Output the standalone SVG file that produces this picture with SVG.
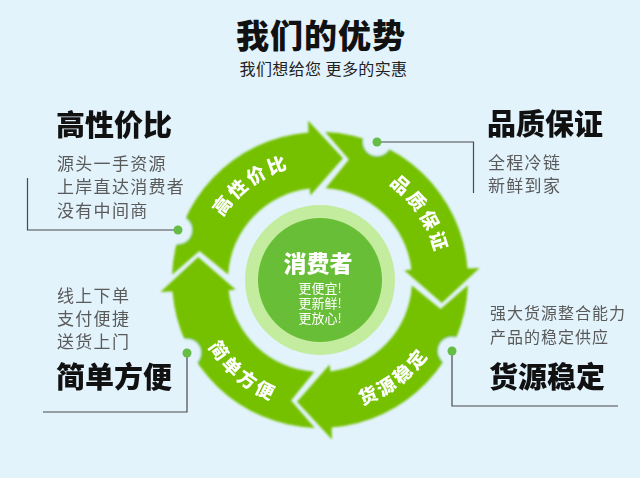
<svg xmlns="http://www.w3.org/2000/svg" xmlns:xlink="http://www.w3.org/1999/xlink" width="640" height="478" viewBox="0 0 640 478">
  <defs>
    <style>
      .cjk { font-family: "Noto Sans CJK SC", "Liberation Sans", sans-serif; }
      .title { font-size: 33px; font-weight: 900; fill: #111; letter-spacing: 1px; }
      .sub { font-size: 16px; fill: #222; letter-spacing: 0.4px; }
      .head { font-size: 29px; font-weight: 900; fill: #111; }
      .body { font-size: 17px; fill: #5a5a5a; letter-spacing: 1.3px; }
      .body2 { font-size: 16px; fill: #5a5a5a; letter-spacing: 1px; }
      .seglabel { font-size: 18.5px; font-weight: 900; fill: #ffffff; letter-spacing: 3px; }
      .ctr { font-size: 13px; fill: #ffffff; }
      .ring { fill: #75c101; }
      .bite { fill: #e2f3fc; }
      .line { fill: none; stroke: #4a4a4a; stroke-width: 1.2; }
      .dot { fill: #66bd45; }
    </style>
    <filter id="soft" x="-10%" y="-10%" width="120%" height="120%">
      <feGaussianBlur stdDeviation="0.9"/>
    </filter>
    <path id="seg" d="M172.09,274.84 A148,148 0 0 1 308.39,132.46 L308.00,120.45 L343.02,158.16 L310.38,195.55 L309.59,188.59 A92,92 0 0 0 228.17,274.38 L199.43,251.05 Z"/>
    <path id="arc1" d="M205.76,259.86 A116,116 0 0 1 336.14,165.13"/>
    <path id="arc2" d="M340.90,163.86 A118,118 0 0 1 434.88,306.95"/>
    <path id="arc3" d="M302.31,410.81 A132,132 0 0 0 450.81,297.69"/>
    <path id="arc4" d="M190.46,290.88 A130,130 0 0 0 330.88,409.54"/>
  </defs>

  <rect x="0" y="0" width="640" height="478" fill="#e2f3fc"/>

  <g id="title" class="cjk">
    <text class="title" x="321" y="48" text-anchor="middle">我们的优势</text>
    <text class="sub" x="323.5" y="74.5" text-anchor="middle">我们想给您 更多的实惠</text>
  </g>

  <g id="ring" filter="url(#soft)">
    <use xlink:href="#seg" href="#seg" class="ring"/>
    <use xlink:href="#seg" href="#seg" class="ring" transform="rotate(90 320 280)"/>
    <use xlink:href="#seg" href="#seg" class="ring" transform="rotate(180 320 280)"/>
    <use xlink:href="#seg" href="#seg" class="ring" transform="rotate(270 320 280)"/>
    <circle class="bite" cx="377" cy="142" r="14"/>
    <circle class="bite" cx="178" cy="230" r="14"/>
    <circle class="bite" cx="187" cy="353" r="14"/>
    <circle class="bite" cx="452" cy="351" r="14"/>
  </g>

  <g id="seg-gaoxingjiabi" class="cjk">
    <text class="seglabel"><textPath xlink:href="#arc1" href="#arc1" startOffset="50%" text-anchor="middle">高性价比</textPath></text>
  </g>
  <g id="seg-pinzhibaozheng" class="cjk">
    <text class="seglabel"><textPath xlink:href="#arc2" href="#arc2" startOffset="50%" text-anchor="middle">品质保证</textPath></text>
  </g>
  <g id="seg-huoyuanwending" class="cjk">
    <text class="seglabel"><textPath xlink:href="#arc3" href="#arc3" startOffset="50%" text-anchor="middle">货源稳定</textPath></text>
  </g>
  <g id="seg-jiandanfangbian" class="cjk">
    <text class="seglabel"><textPath xlink:href="#arc4" href="#arc4" startOffset="50%" text-anchor="middle">简单方便</textPath></text>
  </g>

  <g id="center" class="cjk">
    <circle cx="320" cy="280" r="75" fill="#c4ec9e"/>
    <circle cx="320" cy="280" r="62" fill="#69be37"/>
    <text x="318" y="272" text-anchor="middle" style="font-size:23px;font-weight:900;fill:#fff">消费者</text>
    <text class="ctr" x="320" y="293" text-anchor="middle">更便宜!</text>
    <text class="ctr" x="320" y="308" text-anchor="middle">更新鲜!</text>
    <text class="ctr" x="320" y="323" text-anchor="middle">更放心!</text>
  </g>

  <g id="connectors">
    <polyline class="line" points="178,230 27.5,230 27.5,178"/>
    <polyline class="line" points="377,142 473.5,142 473.5,193"/>
    <polyline class="line" points="187,353 187,412 43,412"/>
    <polyline class="line" points="452,351 452,406 618,406"/>
    <circle class="dot" cx="178" cy="230" r="4.5"/>
    <circle class="dot" cx="377" cy="142" r="4.5"/>
    <circle class="dot" cx="187" cy="353" r="4.5"/>
    <circle class="dot" cx="452" cy="351" r="4.5"/>
  </g>

  <g id="info-gaoxingjiabi" class="cjk">
    <text class="head" x="56" y="136">高性价比</text>
    <text class="body" x="57" y="169.5">源头一手资源</text>
    <text class="body" x="57" y="193">上岸直达消费者</text>
    <text class="body" x="57" y="216.5">没有中间商</text>
  </g>

  <g id="info-pinzhibaozheng" class="cjk">
    <text class="head" x="487" y="135">品质保证</text>
    <text class="body" x="488" y="169">全程冷链</text>
    <text class="body" x="488" y="191.5">新鲜到家</text>
  </g>

  <g id="info-jiandanfangbian" class="cjk">
    <text class="body" x="57" y="302">线上下单</text>
    <text class="body" x="57" y="325">支付便捷</text>
    <text class="body" x="57" y="348">送货上门</text>
    <text class="head" x="56" y="388">简单方便</text>
  </g>

  <g id="info-huoyuanwending" class="cjk">
    <text class="body2" x="490" y="319">强大货源整合能力</text>
    <text class="body2" x="490" y="343">产品的稳定供应</text>
    <text class="head" x="489" y="388">货源稳定</text>
  </g>
</svg>
